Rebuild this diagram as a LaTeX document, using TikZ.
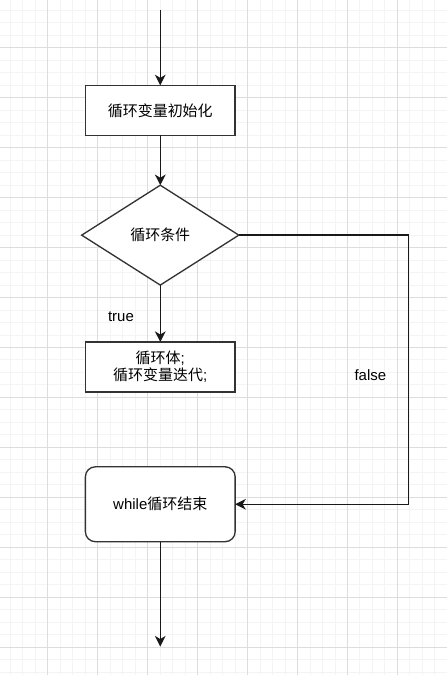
\documentclass[tikz,border=0pt]{standalone}
\usepackage{fontspec}
\setmainfont{Liberation Sans}
\newfontfamily\cjk{Noto Sans CJK SC}
\usetikzlibrary{shapes.geometric, arrows.meta, positioning}

\begin{document}
\begin{tikzpicture}[
    x=0.75pt, y=0.75pt,
    font=\fontsize{11.25}{12.75}\selectfont,
    line/.style={draw=black!90, line width=1pt, -{Stealth[length=8pt, width=8pt, inset=2.4pt]}},
    process/.style={rectangle, draw=black!80, line width=1pt, fill=white, minimum width=112.5pt, minimum height=37.5pt, align=center, outer sep=0pt},
    decision/.style={diamond, draw=black!80, line width=1pt, fill=white, minimum width=118pt, minimum height=75pt, inner sep=1pt, outer sep=0pt},
    terminal/.style={process, rounded corners=7.5pt, minimum height=56.25pt}
]
% grid paper behind the chart
\fill[white] (0,0) rectangle (447,675);
\foreach \x in {10,22.5,...,447} \draw[gray!9, line width=0.75pt] (\x,0) -- (\x,675);
\foreach \y in {2.5,15,...,675} \draw[gray!9, line width=0.75pt] (0,\y) -- (447,\y);
\foreach \x in {47.5,97.5,...,447} \draw[gray!27, line width=0.75pt] (\x,0) -- (\x,675);
\foreach \y in {27.5,77.5,...,675} \draw[gray!27, line width=0.75pt] (0,\y) -- (447,\y);
\useasboundingbox (0,0) rectangle (447,675);

\node[process] (init) at (160,565) {\cjk 循环变量初始化};
\node[decision, below=37.5pt of init] (cond) {\cjk 循环条件};
\node[process, below=42.75pt of cond] (body) {{\cjk 循环体};\\{\cjk 循环变量迭代};};
\node[terminal, below=56.25pt of body] (done) {while{\cjk 循环结束}};

\coordinate[above=56.25pt of init] (start);
\coordinate[below=78.75pt of done] (exit);

% main flow
\draw[line] (start) -- (init);
\draw[line] (init) -- (cond);
\draw[line] (cond) -- node[pos=0.56, left=16pt] {true} (body);
\draw[line] (cond.east) -- ++(127.5pt,0) |- node[pos=0.26, left=13pt] {false} (done.east);
\draw[line] (done) -- (exit);
\end{tikzpicture}
\end{document}
